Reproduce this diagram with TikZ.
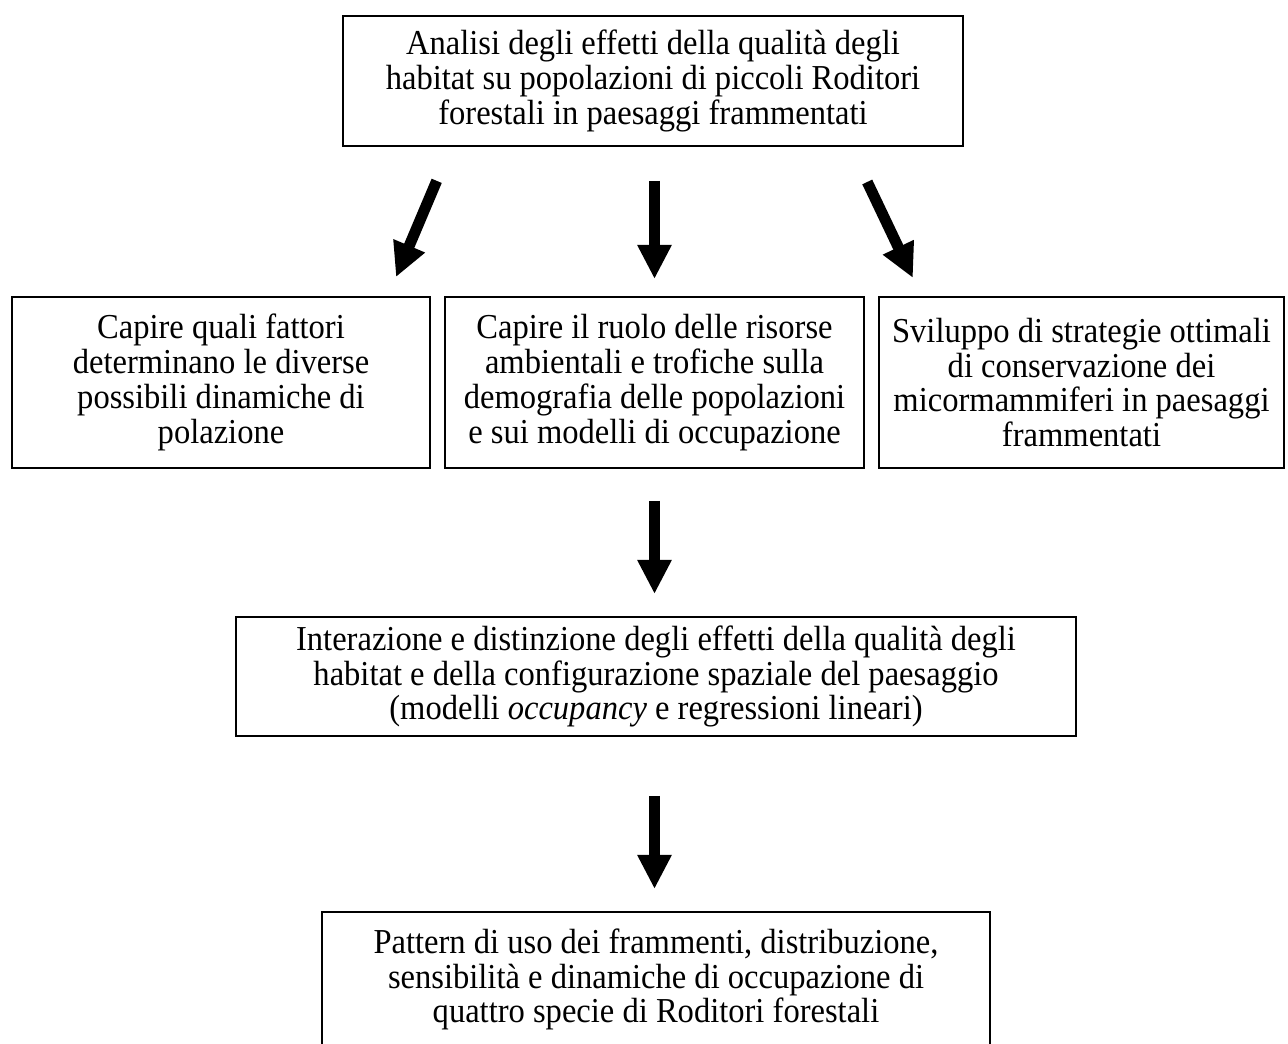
\documentclass[tikz,border=0pt]{standalone}
\usepackage{fontspec}
\setmainfont{Liberation Serif}[FakeStretch=0.93]
\usepackage{tikz}
\usetikzlibrary{arrows.meta, positioning, calc}
\tikzset{
    goal/.style={rectangle, draw=black, line width=0.8pt, align=center, inner sep=0pt, font=\fontsize{14pt}{13.9pt}\selectfont},
    bigarrow/.style={line width=4.4pt, -{Triangle[width=12.8pt, length=13.6pt]}, black}
}

\begin{document}
\begin{tikzpicture}[x=0.4pt, y=-0.4pt]
        \useasboundingbox (0,0) rectangle (1288,1044);
        \clip (0,0) rectangle (1288,1044);

        % Top box
        \node[goal, minimum width=248pt, minimum height=52pt] (top) at (653, 81) {
            Analisi degli effetti della qualità degli\\
            habitat su popolazioni di piccoli Roditori\\
            forestali in paesaggi frammentati
        };

        % Three aims
        \node[goal, minimum width=167.2pt, minimum height=68.4pt] (aim1) at (221, 382.5) {
            Capire quali fattori\\
            determinano le diverse\\
            possibili dinamiche di\\
            polazione
        };

        \node[goal, minimum width=167.6pt, minimum height=68.4pt] (aim2) at (654.5, 382.5) {
            Capire il ruolo delle risorse\\
            ambientali e trofiche sulla\\
            demografia delle popolazioni\\
            e sui modelli di occupazione
        };

        \node[goal, minimum width=162pt, minimum height=68.4pt] (aim3) at (1081.5, 382.5) {
            Sviluppo di strategie ottimali\\
            di conservazione dei\\
            micormammiferi in paesaggi\\
            frammentati
        };

        % Methods
        \node[goal, minimum width=336pt, minimum height=47.6pt] (methods) at (656, 676.5) {
            Interazione e distinzione degli effetti della qualità degli\\
            habitat e della configurazione spaziale del paesaggio\\
            (modelli \textit{occupancy} e regressioni lineari)
        };

        % Results
        \node[goal, minimum width=267.2pt, minimum height=54pt] (results) at (656, 979.5) {
            Pattern di uso dei frammenti, distribuzione,\\
            sensibilità e dinamiche di occupazione di\\
            quattro specie di Roditori forestali
        };

        % Arrows
        \draw[bigarrow, shorten <=14.7pt, shorten >=8.2pt] ($(top.south)+(-202,0)$) -- ($(aim1.north)+(167,0)$);
        \draw[bigarrow, shorten <=13.6pt, shorten >=6.8pt] (top.south -| aim2.north) -- (aim2.north);
        \draw[bigarrow, shorten <=15.5pt, shorten >=8pt] ($(top.south)+(197.6,0)$) -- ($(aim3.north)+(-160,0)$);
        \draw[bigarrow, shorten <=12.8pt, shorten >=8.8pt] (aim2.south) -- (aim2.south |- methods.north);
        \draw[bigarrow, shorten <=23.6pt, shorten >=8.8pt] (methods.south -| aim2.south) -- (aim2.south |- results.north);
\end{tikzpicture}
\end{document}
